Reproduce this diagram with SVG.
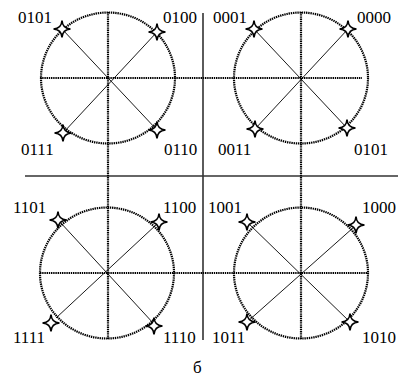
<svg xmlns="http://www.w3.org/2000/svg" width="403" height="381" viewBox="0 0 403 381">
<style>
.dot{fill:none;stroke:#000;stroke-width:2.2;stroke-dasharray:1.4 0.8}
.ray{stroke:#000;stroke-width:0.9}
.axis{stroke:#333;stroke-width:1.6}
.star{fill:#fff;stroke:#000;stroke-width:1.6}
.lb{font-family:'Liberation Serif','Times New Roman',Times,serif;font-size:17px;fill:#000}
</style>
<defs>
<path id="st" d="M0,-8.5 Q0.5,-0.5 8.5,0 Q0.5,0.5 0,8.5 Q-0.5,0.5 -8.5,0 Q-0.5,-0.5 0,-8.5Z"/>
</defs>
<g id="axes">
<line class="axis" x1="203" y1="13" x2="203" y2="340"/>
<line class="axis" x1="25" y1="176" x2="398" y2="176"/>
</g>
<g id="connectors">
<line class="dot" x1="40" y1="78" x2="362" y2="78"/>
<line class="dot" x1="40" y1="273" x2="367" y2="273"/>
<line class="dot" x1="108" y1="12" x2="108" y2="339"/>
<line class="dot" x1="301" y1="12" x2="301" y2="339"/>
</g>
<g id="tl">
<ellipse class="dot" cx="108" cy="78" rx="67" ry="65.5"/>
<line class="ray" x1="62" y1="29" x2="157" y2="130"/>
<line class="ray" x1="157" y1="32" x2="63" y2="133"/>
<use href="#st" class="star" x="62" y="29"/>
<use href="#st" class="star" x="157" y="32"/>
<use href="#st" class="star" x="63" y="133"/>
<use href="#st" class="star" x="157" y="130"/>
<text class="lb" x="18" y="23">0101</text>
<text class="lb" x="163" y="23">0100</text>
<text class="lb" x="21" y="155">0111</text>
<text class="lb" x="164" y="155">0110</text>
</g>
<g id="tr">
<ellipse class="dot" cx="301" cy="78" rx="67" ry="65.5"/>
<line class="ray" x1="254" y1="29" x2="347" y2="128"/>
<line class="ray" x1="348" y1="29" x2="255" y2="129"/>
<use href="#st" class="star" x="254" y="29"/>
<use href="#st" class="star" x="348" y="29"/>
<use href="#st" class="star" x="255" y="129"/>
<use href="#st" class="star" x="347" y="128"/>
<text class="lb" x="213" y="23">0001</text>
<text class="lb" x="357" y="23">0000</text>
<text class="lb" x="218" y="155">0011</text>
<text class="lb" x="354" y="155">0101</text>
</g>
<g id="bl">
<ellipse class="dot" cx="107" cy="273" rx="67" ry="65.5"/>
<line class="ray" x1="60" y1="222" x2="154" y2="324"/>
<line class="ray" x1="157" y1="224" x2="56" y2="318"/>
<use href="#st" class="star" x="58" y="220"/>
<use href="#st" class="star" x="159" y="222"/>
<use href="#st" class="star" x="51" y="323"/>
<use href="#st" class="star" x="154" y="326"/>
<text class="lb" x="13" y="213">1101</text>
<text class="lb" x="163" y="213">1100</text>
<text class="lb" x="13" y="343">1111</text>
<text class="lb" x="163" y="343">1110</text>
</g>
<g id="br">
<ellipse class="dot" cx="301" cy="273" rx="67" ry="65.5"/>
<line class="ray" x1="247" y1="222" x2="350" y2="322"/>
<line class="ray" x1="354" y1="227" x2="247" y2="322"/>
<use href="#st" class="star" x="247" y="222"/>
<use href="#st" class="star" x="356" y="225"/>
<use href="#st" class="star" x="247" y="322"/>
<use href="#st" class="star" x="350" y="322"/>
<text class="lb" x="208" y="213">1001</text>
<text class="lb" x="362" y="213">1000</text>
<text class="lb" x="212" y="343">1011</text>
<text class="lb" x="362" y="343">1010</text>
</g>
<text class="lb" x="193" y="373">б</text>
</svg>
